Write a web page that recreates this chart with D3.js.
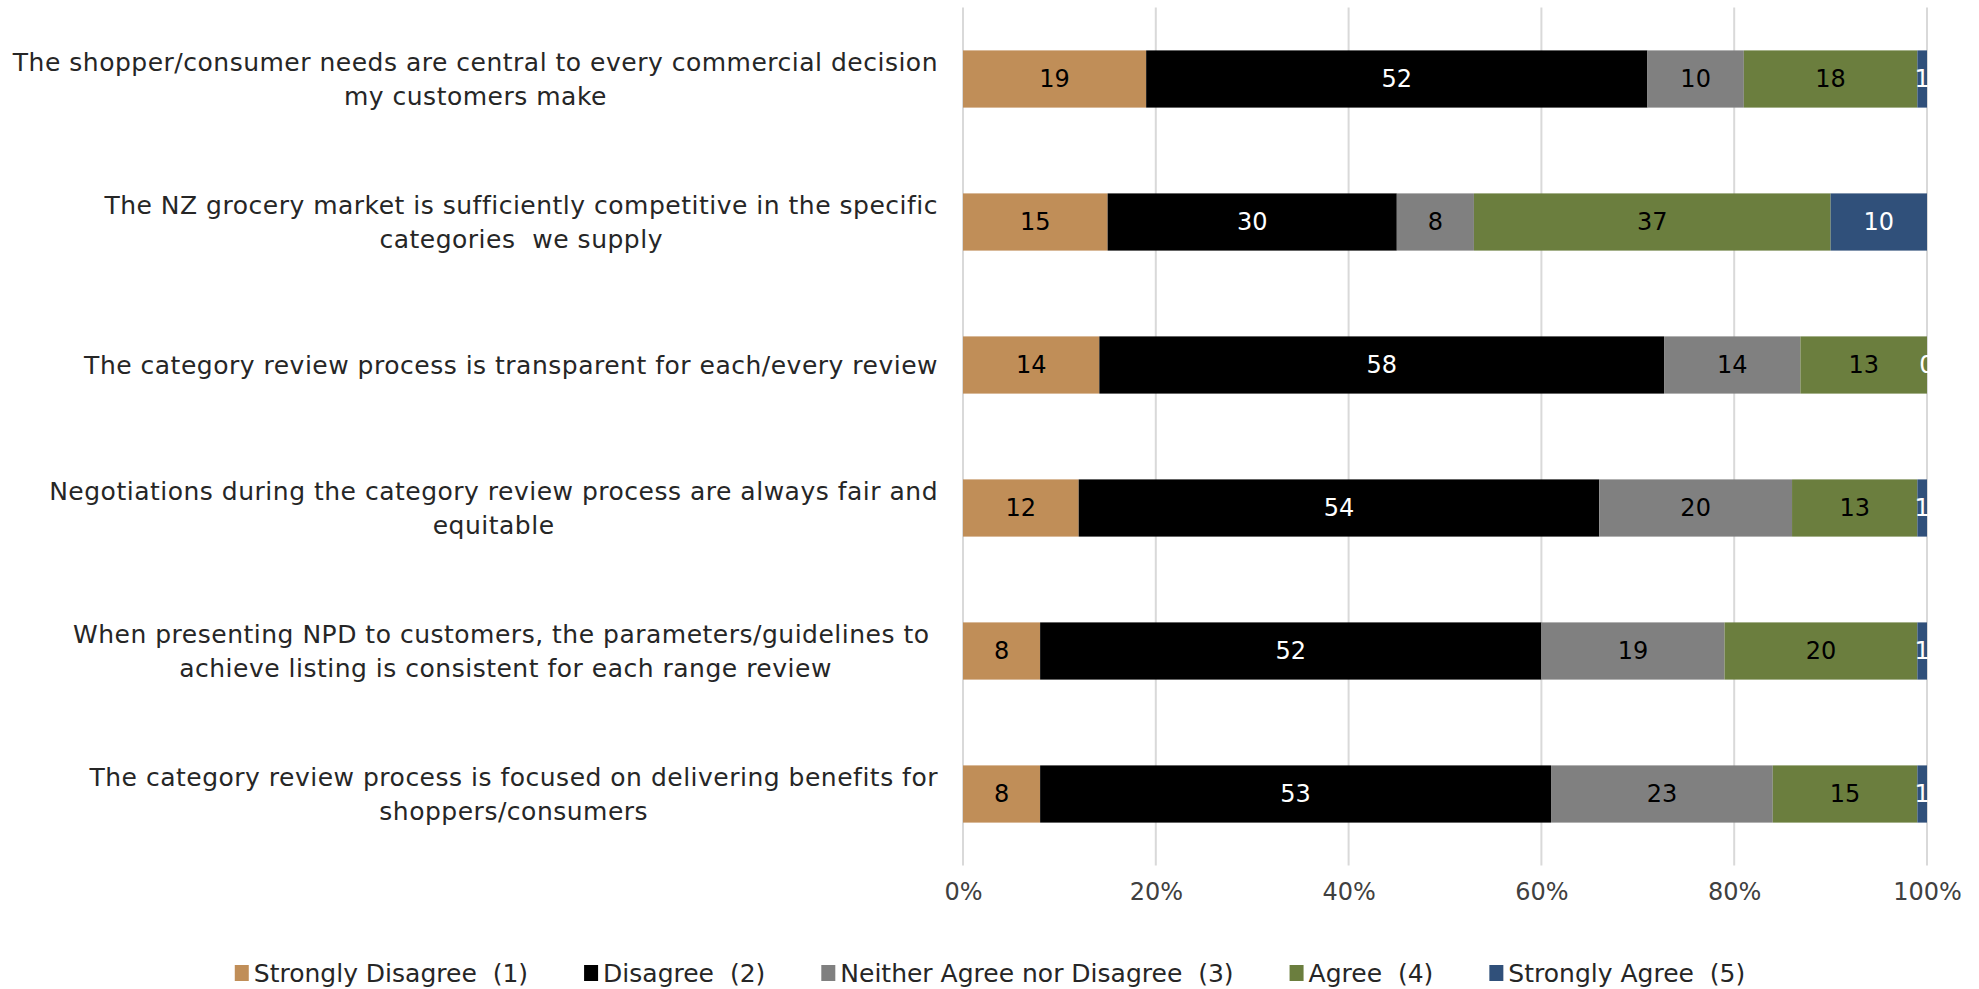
<!DOCTYPE html>
<html>
<head>
<meta charset="utf-8">
<script src="https://cdn.jsdelivr.net/npm/d3@7"></script>
<style>
  html, body { margin: 0; padding: 0; background: #ffffff; }
  svg { display: block; }
  text { font-family: "DejaVu Sans", sans-serif; white-space: pre; }
</style>
</head>
<body>
<svg id="chart" width="1979" height="989"></svg>
<script>
// Survey statements (line breaks mark where each label wraps)
const categories = [
  "The shopper/consumer needs are central to every commercial decision\nmy customers make",
  "The NZ grocery market is sufficiently competitive in the specific\ncategories  we supply",
  "The category review process is transparent for each/every review",
  "Negotiations during the category review process are always fair and\nequitable",
  "When presenting NPD to customers, the parameters/guidelines to \nachieve listing is consistent for each range review",
  "The category review process is focused on delivering benefits for\nshoppers/consumers"
];

const seriesNames = [
  "Strongly Disagree  (1)",
  "Disagree  (2)",
  "Neither Agree nor Disagree  (3)",
  "Agree  (4)",
  "Strongly Agree  (5)"
];

// Response counts per statement, one array per answer
const stronglyDisagree = [19, 15, 14, 12, 8, 8];
const disagree         = [52, 30, 58, 54, 52, 53];
const neither          = [10, 8, 14, 20, 19, 23];
const agree            = [18, 37, 13, 13, 20, 15];
const stronglyAgree    = [1, 10, 0, 1, 1, 1];

const tickValues = [0, 0.2, 0.4, 0.6, 0.8, 1];

const colors = ["#C08E58", "#000000", "#808080", "#6B7E3E", "#30507A"];
const labelColors = ["#000000", "#ffffff", "#000000", "#000000", "#ffffff"];

const rows = categories.map((c, i) => ({
  cat: c,
  s0: stronglyDisagree[i], s1: disagree[i], s2: neither[i], s3: agree[i], s4: stronglyAgree[i]
}));
const keys = ["s0", "s1", "s2", "s3", "s4"];

const svg = d3.select("#chart");
const plot = { left: 963, right: 1927, top: 7.5, bottom: 865.5 };

const x = d3.scaleLinear().domain([0, 1]).range([plot.left, plot.right]);
const y = d3.scaleBand().domain(categories).range([plot.top, plot.bottom])
  .paddingInner(0.6).paddingOuter(0.3);

const stack = d3.stack().keys(keys).offset(d3.stackOffsetExpand);
const layers = stack(rows);

svg.append("defs").append("clipPath").attr("id", "plotClip")
  .append("rect").attr("x", plot.left).attr("y", plot.top)
  .attr("width", plot.right - plot.left + 1).attr("height", plot.bottom - plot.top);

// Vertical gridlines
svg.append("g").selectAll("line").data(tickValues).join("line")
  .attr("x1", d => x(d)).attr("x2", d => x(d))
  .attr("y1", plot.top).attr("y2", plot.bottom)
  .attr("stroke", "#D9D9D9").attr("stroke-width", 2);

// Bottom axis tick labels
const xAxis = d3.axisBottom(x).tickValues(tickValues).tickFormat(d3.format(".0%")).tickSize(0).tickPadding(0);
const ax = svg.append("g").attr("transform", `translate(0, ${plot.bottom + 26})`).call(xAxis);
ax.select(".domain").remove();
ax.selectAll("text").attr("font-size", 24).attr("fill", "#404040")
  .attr("font-family", "DejaVu Sans, sans-serif").attr("dy", "0.35em").attr("y", 0);

// Stacked bars
const gLayers = svg.append("g").selectAll("g").data(layers).join("g")
  .attr("fill", (d, i) => colors[i]);
gLayers.selectAll("rect").data(d => d).join("rect")
  .attr("x", d => x(d[0]))
  .attr("y", d => y(d.data.cat))
  .attr("width", d => x(d[1]) - x(d[0]))
  .attr("height", y.bandwidth());

// Value labels centred in each segment
const gLabels = svg.append("g").attr("clip-path", "url(#plotClip)");
layers.forEach((layer, i) => {
  gLabels.append("g").selectAll("text").data(layer).join("text")
    .attr("x", d => (x(d[0]) + x(d[1])) / 2)
    .attr("y", d => y(d.data.cat) + y.bandwidth() / 2)
    .attr("dy", "0.35em")
    .attr("text-anchor", "middle")
    .attr("font-size", 24)
    .attr("fill", labelColors[i])
    .text(d => d.data[layer.key]);
});

// Category labels: wrapped lines centred on their block, block right-aligned
const labelRight = 938;
const lineGap = 34;
const gCats = svg.append("g");
categories.forEach(c => {
  const lines = c.split("\n");
  const cy = y(c) + y.bandwidth() / 2;
  const t = gCats.append("text").attr("font-size", 25).attr("letter-spacing", 0.5)
    .attr("fill", "#262626").attr("text-anchor", "middle");
  const spans = lines.map((ln, k) => t.append("tspan")
    .attr("y", cy + (k - (lines.length - 1) / 2) * lineGap)
    .attr("dy", "0.35em").text(ln));
  const maxW = d3.max(spans, s => s.node().getComputedTextLength());
  spans.forEach(s => s.attr("x", labelRight - maxW / 2));
});

// Legend, centred under the chart
const legendY = 973;
const legend = svg.append("g");
const items = seriesNames.map((name, i) => {
  const g = legend.append("g");
  g.append("rect").attr("x", 0).attr("y", -8).attr("width", 14).attr("height", 16).attr("fill", colors[i]);
  const t = g.append("text").attr("x", 19).attr("y", 0).attr("dy", "0.35em")
    .attr("font-size", 25).attr("fill", "#262626").text(name);
  return { g, w: 19 + t.node().getComputedTextLength() };
});
const gap = 56;
const total = d3.sum(items, d => d.w) + gap * (items.length - 1);
let cx = 990 - total / 2;
items.forEach(it => {
  it.g.attr("transform", `translate(${cx}, ${legendY})`);
  cx += it.w + gap;
});
</script>
</body>
</html>
